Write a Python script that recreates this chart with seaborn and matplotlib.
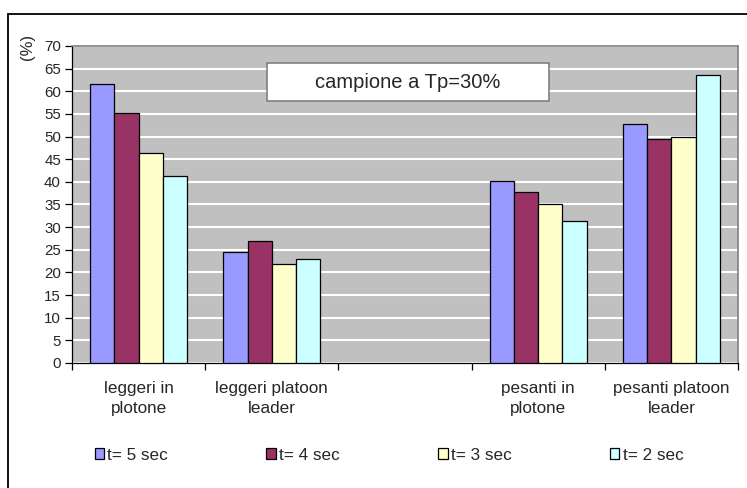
import matplotlib
matplotlib.use("Agg")
import matplotlib.pyplot as plt
import matplotlib.patches as mpatches
import seaborn as sns
import pandas as pd
import numpy as np

categories = ["leggeri in\nplotone", "leggeri platoon\nleader", " ", "pesanti in\nplotone", "pesanti platoon\nleader"]
series = ["t= 5 sec", "t= 4 sec", "t= 3 sec", "t= 2 sec"]
t5 = [61.7, 24.5, None, 40.2, 52.8]
t4 = [55.3, 26.9, None, 37.7, 49.4]
t3 = [46.3, 21.9, None, 35.2, 49.9]
t2 = [41.4, 23.0, None, 31.3, 63.5]
colors = ["#9999FF", "#993366", "#FFFFCC", "#CCFFFF"]
yticks = list(range(0, 71, 5))

rows = []
for s, vals in zip(series, [t5, t4, t3, t2]):
    for c, v in zip(categories, vals):
        if v is not None:
            rows.append({"cat": c, "serie": s, "val": v})
df = pd.DataFrame(rows)

sns.set_theme(style="white")
plt.rcParams["font.family"] = ["Liberation Sans", "DejaVu Sans"]
plt.rcParams["font.size"] = 12

W, H = 747, 488
fig = plt.figure(figsize=(W / 100, H / 100), dpi=100)
ax = fig.add_axes([72 / W, 1 - 363 / H, (738 - 72) / W, (363 - 46) / H])
ax.set_facecolor("#C0C0C0")

sns.barplot(data=df, x="cat", y="val", hue="serie", order=categories,
            hue_order=series, palette=colors, width=4 / 5.5, gap=0,
            edgecolor="black", linewidth=0.9, saturation=1, ax=ax,
            legend=False, errorbar=None, zorder=3)

ax.set_xlim(-0.5, 4.5)
ax.set_ylim(0, 70)
ax.set_yticks(yticks)
ax.set_yticklabels([str(v) for v in yticks], fontsize=10.8)
ax.yaxis.grid(True, color="white", linewidth=1.5, zorder=1)
ax.set_axisbelow(True)
ax.tick_params(axis="y", direction="out", length=5, width=0.9, color="black", pad=3, left=True)

ax.set_xticks(range(len(categories)))
ax.set_xticklabels(categories, fontsize=12.3, linespacing=1.45)
ax.tick_params(axis="x", which="major", length=0, pad=13)
ax.set_xticks(np.arange(-0.5, 5, 1), minor=True)
ax.tick_params(axis="x", which="minor", direction="out", length=5, width=0.9, color="black", bottom=True)
ax.set_xlabel("")
ax.set_ylabel("")

for side in ["left", "bottom"]:
    ax.spines[side].set_color("black")
    ax.spines[side].set_linewidth(0.9)
for side in ["top", "right"]:
    ax.spines[side].set_color("#808080")
    ax.spines[side].set_linewidth(1.2)

# title box
fig.patches.append(mpatches.Rectangle((267 / W, 1 - 101 / H), (549 - 267) / W, (101 - 63) / H,
                                      transform=fig.transFigure, facecolor="white",
                                      edgecolor="#808080", linewidth=1.2, zorder=5))
fig.text(408 / W, 1 - 82 / H, "campione a Tp=30%", ha="center", va="center", fontsize=14.5, zorder=6)

# y label
fig.text(27 / W, 1 - 47 / H, "(%)", rotation=90, ha="center", va="center", fontsize=12)

# figure border
fig.patches.append(mpatches.Rectangle((8 / W, -0.05), 1.0, 1 - 14 / H + 0.05,
                                      transform=fig.transFigure, facecolor="none",
                                      edgecolor="black", linewidth=1.3, zorder=0))

handles = [mpatches.Patch(facecolor=c, edgecolor="black", linewidth=0.9) for c in colors]
fig.legend(handles, series, loc="center", bbox_to_anchor=(389 / W, 1 - 455 / H), ncol=4,
           frameon=False, fontsize=12.3, handlelength=0.55, handleheight=0.55,
           handletextpad=0.2, columnspacing=5.75)

fig.savefig("out.png", dpi=100)
